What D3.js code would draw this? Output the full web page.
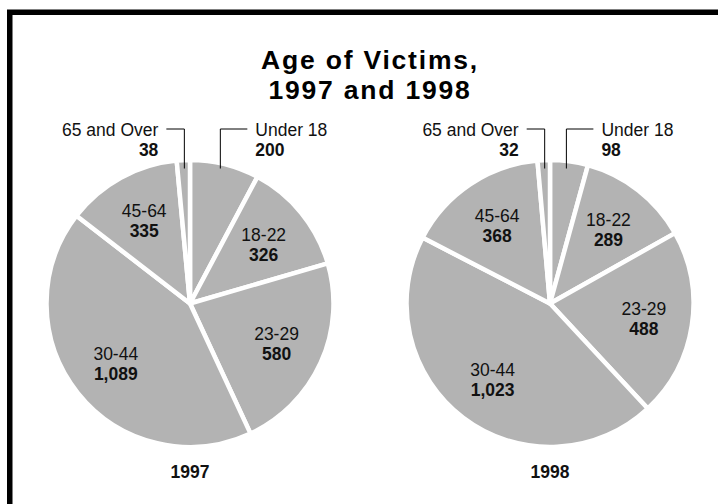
<!DOCTYPE html>
<html>
<head>
<meta charset="utf-8">
<script src="https://cdn.jsdelivr.net/npm/d3@7"></script>
<style>
	body { margin: 0; background: #fff; }
	svg { display: block; font-family: "Liberation Sans", Arial, sans-serif; }
	.slice { fill: #b3b3b3; stroke: #fff; stroke-width: 4.5; stroke-linejoin: round; }
	.leader { fill: none; stroke: #000; stroke-width: 1; }
	.lbl { font-size: 17.5px; fill: #111; }
	.val { font-size: 17.5px; font-weight: 700; fill: #111; }
</style>
</head>
<body>
<div id="chart"></div>
<script>
// Age groups, clockwise from 12 o'clock
var categories = ["Under 18", "18-22", "23-29", "30-44", "45-64", "65 and Over"];
var years = ["1997", "1998"];
var values1997 = [200, 326, 580, 1089, 335, 38];
var values1998 = [98, 289, 488, 1023, 368, 32];
var titleLines = ["Age of Victims,", "1997 and 1998"];

var width = 718, height = 504;
var radius = 143.5;
var centers = [{ x: 190, y: 303.5 }, { x: 550, y: 303.5 }];

var svg = d3.select("#chart").append("svg")
	.attr("width", width)
	.attr("height", height);

// frame (runs off the right and bottom edge)
svg.append("rect")
	.attr("x", 9.75)
	.attr("y", 12.25)
	.attr("width", 800)
	.attr("height", 600)
	.attr("fill", "none")
	.attr("stroke", "#000")
	.attr("stroke-width", 5.5);

// title
svg.selectAll(".title")
	.data(titleLines)
	.enter()
	.append("text")
	.attr("class", "title")
	.attr("x", 370)
	.attr("y", function (d, i) { return 69 + i * 30; })
	.attr("text-anchor", "middle")
	.style("font-size", "26.5px")
	.style("font-weight", 700)
	.style("letter-spacing", "1.8px")
	.text(function (d) { return d; });

var pie = d3.pie()
	.sort(null)
	.value(function (d) { return d.value; });

var arc = d3.arc()
	.innerRadius(0)
	.outerRadius(radius);

var labelArc = d3.arc()
	.innerRadius(95)
	.outerRadius(95);

var fmt = d3.format(",");

// category name over a bold value
function twoLine(sel, x, y, anchor) {
	sel.append("text")
		.attr("class", "lbl")
		.attr("x", x)
		.attr("y", y)
		.attr("text-anchor", anchor)
		.text(function (d) { return d.data.key; });
	sel.append("text")
		.attr("class", "val")
		.attr("x", x)
		.attr("y", y + 20)
		.attr("text-anchor", anchor)
		.text(function (d) { return fmt(d.data.value); });
}

[values1997, values1998].forEach(function (values, p) {
	var c = centers[p];
	var data = categories.map(function (k, i) { return { key: k, value: values[i] }; });
	var arcs = pie(data);

	var g = svg.append("g")
		.attr("transform", "translate(" + c.x + "," + c.y + ")");

	g.selectAll(".slice")
		.data(arcs)
		.enter()
		.append("path")
		.attr("class", "slice")
		.attr("d", arc);

	// labels inside the bigger slices
	var inside = arcs.filter(function (d, i) { return i > 0 && i < arcs.length - 1; });
	var lab = g.selectAll(".inlabel")
		.data(inside)
		.enter()
		.append("g")
		.attr("class", "inlabel")
		.attr("transform", function (d) {
			var pt = labelArc.centroid(d);
			return "translate(" + pt[0] + "," + pt[1] + ")";
		});
	twoLine(lab, 0, -3, "middle");

	// leader-line labels for the first and last (thin) slices
	var lineY = 129 - c.y, tipY = -135;
	[arcs[0], arcs[arcs.length - 1]].forEach(function (d, j) {
		var mid = (d.startAngle + d.endAngle) / 2;
		var vx = -tipY * Math.tan(mid) * 0.9;
		var dir = j === 0 ? 1 : -1;
		var hx = vx + dir * (j === 0 ? 27 : 18);
		g.append("path")
			.attr("class", "leader")
			.attr("d", d3.line()([[hx, lineY], [vx, lineY], [vx, tipY]]));
		var tx = hx + dir * 8;
		twoLine(g.append("g").datum(d), tx, 136 - c.y, j === 0 ? "start" : "end");
	});

	// year under each pie
	g.append("text")
		.attr("class", "val")
		.attr("x", 0)
		.attr("y", 478 - c.y)
		.attr("text-anchor", "middle")
		.text(years[p]);
});
</script>
</body>
</html>
